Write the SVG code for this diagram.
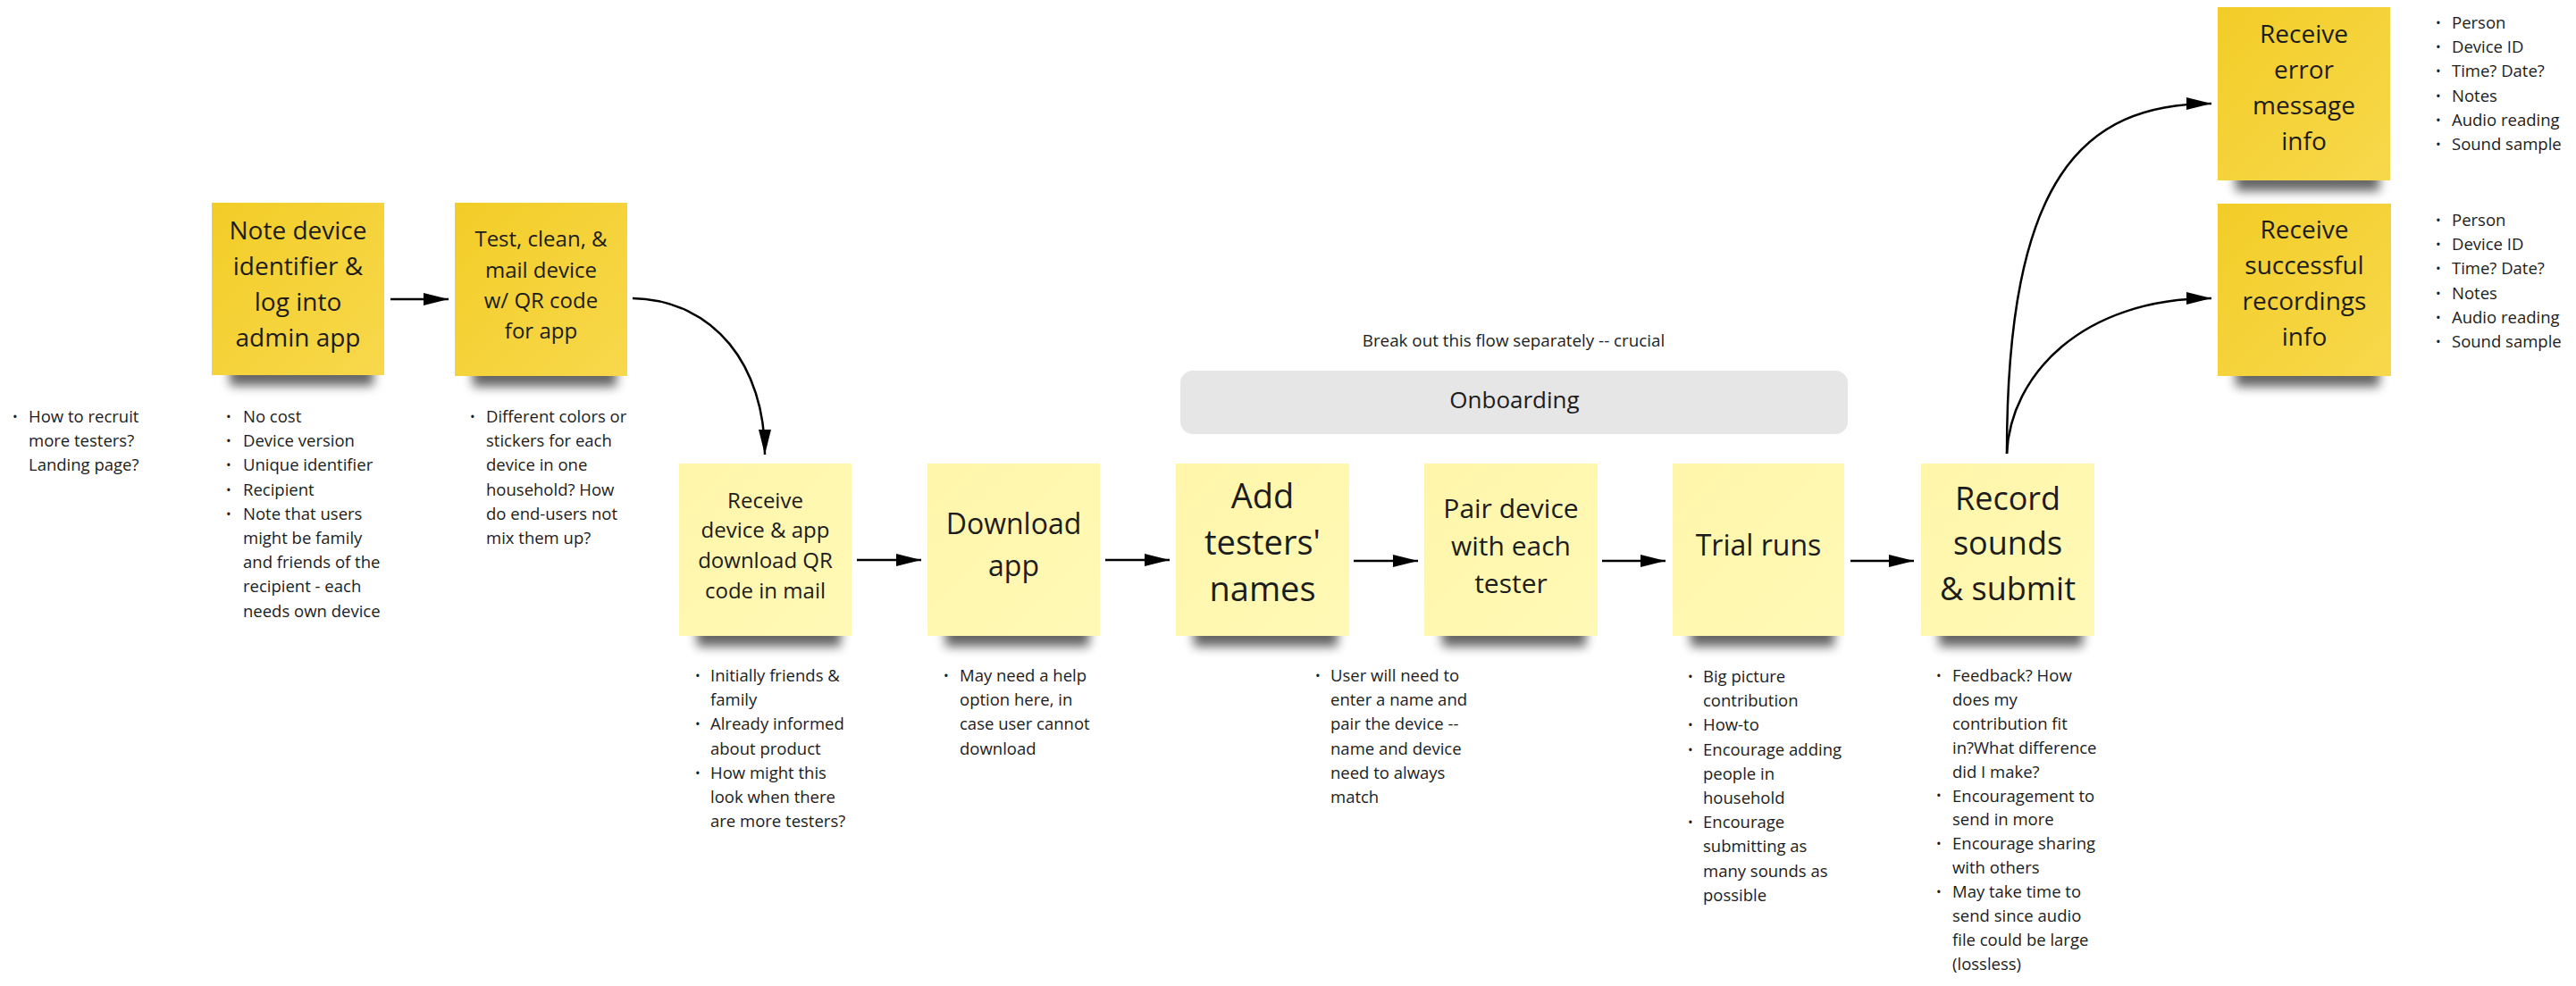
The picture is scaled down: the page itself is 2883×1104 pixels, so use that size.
<svg xmlns="http://www.w3.org/2000/svg" width="2883" height="1104" viewBox="0 0 2883 1104">
<style>
text{font-family:"Open Sans","Noto Sans","Liberation Sans",sans-serif;fill:#1c1c1c}
.nt{text-anchor:middle}
.bl{font-size:18.5px}
.bu{font-size:15px}
.dk{fill:url(#gd)}
.lt{fill:url(#gl)}
.sh{fill:#000;opacity:.6;filter:url(#blur)}
.cn{fill:none;stroke:#000;stroke-width:2.5}
</style>
<defs>
<linearGradient id="gd" x1="0" y1="0" x2="1" y2="1"><stop offset="0" stop-color="#f2cd27"/><stop offset="1" stop-color="#f8d84c"/></linearGradient>
<linearGradient id="gl" x1="0" y1="0" x2="1" y2="1"><stop offset="0" stop-color="#fff6aa"/><stop offset="1" stop-color="#fff9b6"/></linearGradient>
<filter id="blur" x="-20%" y="-100%" width="140%" height="300%"><feGaussianBlur stdDeviation="6"/></filter>
<marker id="ah" markerUnits="userSpaceOnUse" markerWidth="30" markerHeight="16" refX="28" refY="7" orient="auto"><path d="M0,0 L28,7 L0,14 z" fill="#000"/></marker>
</defs>
<rect width="2883" height="1104" fill="#fff"/>

<g id="connectors">
<path class="cn" d="M437,335 L502,335" marker-end="url(#ah)"/>
<path class="cn" d="M708,334 C800,336 856,410 856,509" marker-end="url(#ah)"/>
<path class="cn" d="M959,627 L1031,627" marker-end="url(#ah)"/>
<path class="cn" d="M1237,627 L1309,627" marker-end="url(#ah)"/>
<path class="cn" d="M1515,628 L1587,628" marker-end="url(#ah)"/>
<path class="cn" d="M1793,628 L1864,628" marker-end="url(#ah)"/>
<path class="cn" d="M2071,628 L2142,628" marker-end="url(#ah)"/>
<path class="cn" d="M2246,508 C2246,200 2330,116 2475,116" marker-end="url(#ah)"/>
<path class="cn" d="M2246,508 C2250,420 2330,334 2475,334" marker-end="url(#ah)"/>
</g>

<g id="onboarding">
<text class="nt" x="1694" y="388" font-size="18.8">Break out this flow separately -- crucial</text>
<rect x="1321" y="415" width="747" height="71" rx="14" fill="#e6e6e6"/>
<text class="nt" x="1695" y="457" font-size="26">Onboarding</text>
</g>

<g id="note-left-questions">
<text class="bu" x="14" y="472">•</text>
<text class="bl" x="32" y="473"><tspan x="32">How to recruit</tspan><tspan x="32" dy="27.2">more testers?</tspan><tspan x="32" dy="27.2">Landing page?</tspan></text>
</g>

<g id="n1">
<rect class="sh" x="257" y="408" width="161" height="24"/>
<rect class="dk" x="237" y="227" width="193" height="193"/>
<text class="nt" font-size="28"><tspan x="333.5" y="268">Note device</tspan><tspan x="333.5" y="308">identifier &amp;</tspan><tspan x="333.5" y="348">log into</tspan><tspan x="333.5" y="388">admin app</tspan></text>
<text class="bu" x="253" y="472">•</text><text class="bu" x="253" y="499.2">•</text><text class="bu" x="253" y="526.4">•</text><text class="bu" x="253" y="553.6">•</text><text class="bu" x="253" y="580.8">•</text>
<text class="bl" x="272" y="473"><tspan x="272">No cost</tspan><tspan x="272" dy="27.2">Device version</tspan><tspan x="272" dy="27.2">Unique identifier</tspan><tspan x="272" dy="27.2">Recipient</tspan><tspan x="272" dy="27.2">Note that users</tspan><tspan x="272" dy="27.2">might be family</tspan><tspan x="272" dy="27.2">and friends of the</tspan><tspan x="272" dy="27.2">recipient - each</tspan><tspan x="272" dy="27.2">needs own device</tspan></text>
</g>

<g id="n2">
<rect class="sh" x="529" y="409" width="161" height="24"/>
<rect class="dk" x="509" y="227" width="193" height="194"/>
<text class="nt" font-size="24"><tspan x="605.5" y="276">Test, clean, &amp;</tspan><tspan x="605.5" y="311">mail device</tspan><tspan x="605.5" y="345">w/ QR code</tspan><tspan x="605.5" y="379">for app</tspan></text>
<text class="bu" x="526" y="472">•</text>
<text class="bl" x="544" y="473"><tspan x="544">Different colors or</tspan><tspan x="544" dy="27.2">stickers for each</tspan><tspan x="544" dy="27.2">device in one</tspan><tspan x="544" dy="27.2">household? How</tspan><tspan x="544" dy="27.2">do end-users not</tspan><tspan x="544" dy="27.2">mix them up?</tspan></text>
</g>

<g id="n3">
<rect class="sh" x="780" y="700" width="161" height="24"/>
<rect class="lt" x="760" y="519" width="193" height="193"/>
<text class="nt" font-size="24"><tspan x="856.5" y="569">Receive</tspan><tspan x="856.5" y="602">device &amp; app</tspan><tspan x="856.5" y="636">download QR</tspan><tspan x="856.5" y="670">code in mail</tspan></text>
<text class="bu" x="778" y="762">•</text><text class="bu" x="778" y="816.4">•</text><text class="bu" x="778" y="870.8">•</text>
<text class="bl" x="795" y="763"><tspan x="795">Initially friends &amp;</tspan><tspan x="795" dy="27.2">family</tspan><tspan x="795" dy="27.2">Already informed</tspan><tspan x="795" dy="27.2">about product</tspan><tspan x="795" dy="27.2">How might this</tspan><tspan x="795" dy="27.2">look when there</tspan><tspan x="795" dy="27.2">are more testers?</tspan></text>
</g>

<g id="n4">
<rect class="sh" x="1058" y="700" width="161" height="24"/>
<rect class="lt" x="1038" y="519" width="193" height="193"/>
<text class="nt" font-size="32"><tspan x="1134.5" y="598">Download</tspan><tspan x="1134.5" y="645">app</tspan></text>
<text class="bu" x="1056" y="762">•</text>
<text class="bl" x="1074" y="763"><tspan x="1074">May need a help</tspan><tspan x="1074" dy="27.2">option here, in</tspan><tspan x="1074" dy="27.2">case user cannot</tspan><tspan x="1074" dy="27.2">download</tspan></text>
</g>

<g id="n5">
<rect class="sh" x="1336" y="700" width="161" height="24"/>
<rect class="lt" x="1316" y="519" width="194" height="193"/>
<text class="nt" font-size="38"><tspan x="1413" y="569">Add</tspan><tspan x="1413" y="621">testers'</tspan><tspan x="1413" y="673">names</tspan></text>
<text class="bu" x="1472" y="762">•</text>
<text class="bl" x="1489" y="763"><tspan x="1489">User will need to</tspan><tspan x="1489" dy="27.2">enter a name and</tspan><tspan x="1489" dy="27.2">pair the device --</tspan><tspan x="1489" dy="27.2">name and device</tspan><tspan x="1489" dy="27.2">need to always</tspan><tspan x="1489" dy="27.2">match</tspan></text>
</g>

<g id="n6">
<rect class="sh" x="1614" y="700" width="161" height="24"/>
<rect class="lt" x="1594" y="519" width="194" height="193"/>
<text class="nt" font-size="30"><tspan x="1691" y="580">Pair device</tspan><tspan x="1691" y="622">with each</tspan><tspan x="1691" y="664">tester</tspan></text>
</g>

<g id="n7">
<rect class="sh" x="1892" y="700" width="161" height="24"/>
<rect class="lt" x="1872" y="519" width="192" height="193"/>
<text class="nt" x="1968" y="622" font-size="32">Trial runs</text>
<text class="bu" x="1889" y="763">•</text><text class="bu" x="1889" y="817.4">•</text><text class="bu" x="1889" y="844.6">•</text><text class="bu" x="1889" y="926.2">•</text>
<text class="bl" x="1906" y="764"><tspan x="1906">Big picture</tspan><tspan x="1906" dy="27.2">contribution</tspan><tspan x="1906" dy="27.2">How-to</tspan><tspan x="1906" dy="27.2">Encourage adding</tspan><tspan x="1906" dy="27.2">people in</tspan><tspan x="1906" dy="27.2">household</tspan><tspan x="1906" dy="27.2">Encourage</tspan><tspan x="1906" dy="27.2">submitting as</tspan><tspan x="1906" dy="27.2">many sounds as</tspan><tspan x="1906" dy="27.2">possible</tspan></text>
</g>

<g id="n8">
<rect class="sh" x="2170" y="700" width="161" height="24"/>
<rect class="lt" x="2150" y="519" width="194" height="193"/>
<text class="nt" font-size="36"><tspan x="2247" y="571">Record</tspan><tspan x="2247" y="621">sounds</tspan><tspan x="2247" y="672">&amp; submit</tspan></text>
<text class="bu" x="2167" y="762">•</text><text class="bu" x="2167" y="896">•</text><text class="bu" x="2167" y="950">•</text><text class="bu" x="2167" y="1004">•</text>
<text class="bl" x="2185" y="763"><tspan x="2185">Feedback? How</tspan><tspan x="2185" dy="26.9">does my</tspan><tspan x="2185" dy="26.9">contribution fit</tspan><tspan x="2185" dy="26.9">in?What difference</tspan><tspan x="2185" dy="26.9">did I make?</tspan><tspan x="2185" dy="26.9">Encouragement to</tspan><tspan x="2185" dy="26.9">send in more</tspan><tspan x="2185" dy="26.9">Encourage sharing</tspan><tspan x="2185" dy="26.9">with others</tspan><tspan x="2185" dy="26.9">May take time to</tspan><tspan x="2185" dy="26.9">send since audio</tspan><tspan x="2185" dy="26.9">file could be large</tspan><tspan x="2185" dy="26.9">(lossless)</tspan></text>
</g>

<g id="n9">
<rect class="sh" x="2502" y="190" width="161" height="24"/>
<rect class="dk" x="2482" y="8" width="193" height="194"/>
<text class="nt" font-size="28"><tspan x="2578.5" y="48">Receive</tspan><tspan x="2578.5" y="88">error</tspan><tspan x="2578.5" y="128">message</tspan><tspan x="2578.5" y="168">info</tspan></text>
<text class="bu" x="2726" y="31">•</text><text class="bu" x="2726" y="58.2">•</text><text class="bu" x="2726" y="85.4">•</text><text class="bu" x="2726" y="112.6">•</text><text class="bu" x="2726" y="139.8">•</text><text class="bu" x="2726" y="167">•</text>
<text class="bl" x="2744" y="32"><tspan x="2744">Person</tspan><tspan x="2744" dy="27.2">Device ID</tspan><tspan x="2744" dy="27.2">Time? Date?</tspan><tspan x="2744" dy="27.2">Notes</tspan><tspan x="2744" dy="27.2">Audio reading</tspan><tspan x="2744" dy="27.2">Sound sample</tspan></text>
</g>

<g id="n10">
<rect class="sh" x="2502" y="409" width="161" height="24"/>
<rect class="dk" x="2482" y="228" width="194" height="193"/>
<text class="nt" font-size="28"><tspan x="2579" y="267">Receive</tspan><tspan x="2579" y="307">successful</tspan><tspan x="2579" y="347">recordings</tspan><tspan x="2579" y="387">info</tspan></text>
<text class="bu" x="2726" y="252">•</text><text class="bu" x="2726" y="279.2">•</text><text class="bu" x="2726" y="306.4">•</text><text class="bu" x="2726" y="333.6">•</text><text class="bu" x="2726" y="360.8">•</text><text class="bu" x="2726" y="388">•</text>
<text class="bl" x="2744" y="253"><tspan x="2744">Person</tspan><tspan x="2744" dy="27.2">Device ID</tspan><tspan x="2744" dy="27.2">Time? Date?</tspan><tspan x="2744" dy="27.2">Notes</tspan><tspan x="2744" dy="27.2">Audio reading</tspan><tspan x="2744" dy="27.2">Sound sample</tspan></text>
</g>
</svg>
